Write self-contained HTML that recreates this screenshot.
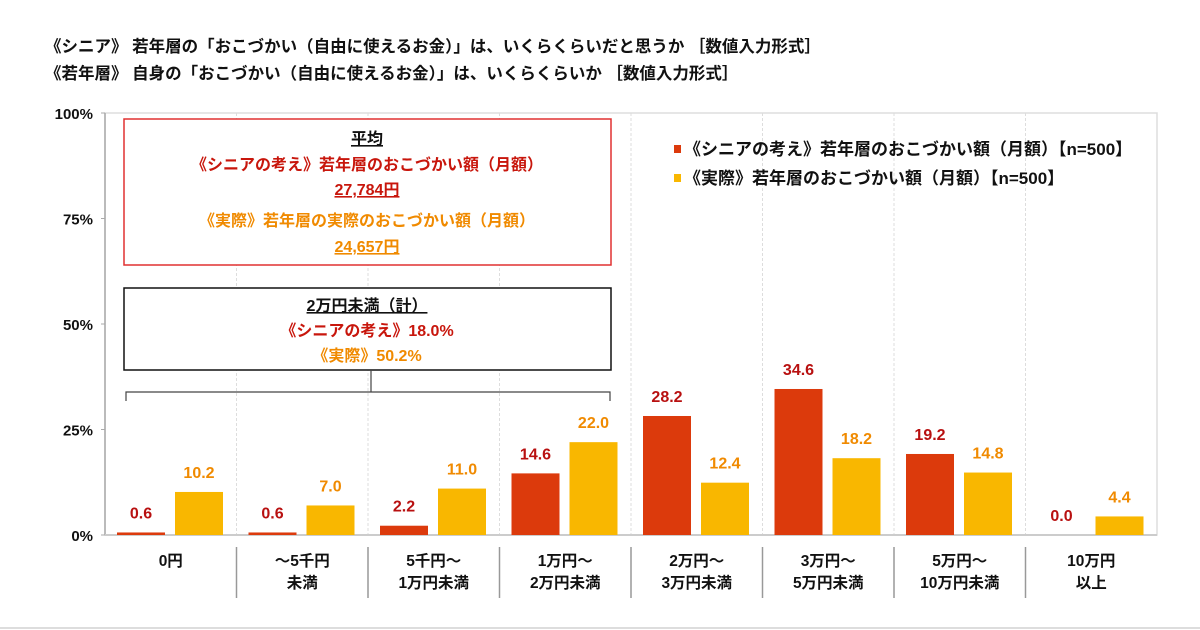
<!DOCTYPE html>
<html><head><meta charset="utf-8"><style>
body{margin:0;background:#fff;}
svg{display:block;font-family:"Liberation Sans","Noto Sans CJK JP",sans-serif;font-weight:bold;}
</style></head><body>
<svg id="c" width="1200" height="630" viewBox="0 0 1200 630">
<text x="45" y="52" font-size="16.5" fill="#111">《シニア》 若年層の「おこづかい（自由に使えるお金）」は、いくらくらいだと思うか ［数値入力形式］</text>
<text x="45" y="79" font-size="16.5" fill="#111">《若年層》 自身の「おこづかい（自由に使えるお金）」は、いくらくらいか ［数値入力形式］</text>
<g id="grid"></g>
<g id="bars"></g>
<g>
<rect x="674" y="145" width="7" height="8" fill="#dc3a0c"/>
<text x="684" y="155" font-size="17" fill="#111">《シニアの考え》若年層のおこづかい額（月額）【n=500】</text>
<rect x="674" y="174" width="7" height="8" fill="#f9b700"/>
<text x="684" y="184" font-size="17" fill="#111">《実際》若年層のおこづかい額（月額）【n=500】</text>
</g>
<g>
<rect x="124" y="119" width="487" height="146" fill="#fff" stroke="#e03030" stroke-width="1.5"/>
<text x="367" y="144" font-size="16" text-anchor="middle" fill="#111" text-decoration="underline">平均</text>
<text x="367" y="170" font-size="16" text-anchor="middle" fill="#c8160c">《シニアの考え》若年層のおこづかい額（月額）</text>
<text x="367" y="195" font-size="16" text-anchor="middle" fill="#c8160c" text-decoration="underline">27,784円</text>
<text x="367" y="226" font-size="16" text-anchor="middle" fill="#f08a00">《実際》若年層の実際のおこづかい額（月額）</text>
<text x="367" y="252" font-size="16" text-anchor="middle" fill="#f08a00" text-decoration="underline">24,657円</text>
</g>
<g>
<rect x="124" y="288" width="487" height="82" fill="#fff" stroke="#111" stroke-width="1.5"/>
<text x="367" y="311" font-size="16" text-anchor="middle" fill="#111" text-decoration="underline">2万円未満（計）</text>
<text x="367" y="336" font-size="16" text-anchor="middle" fill="#c8160c">《シニアの考え》18.0%</text>
<text x="367" y="361" font-size="16" text-anchor="middle" fill="#f08a00">《実際》50.2%</text>
<path d="M371 370V392M126 401V392H610V401" fill="none" stroke="#444" stroke-width="1.2"/>
</g>
<line x1="0" y1="628" x2="1200" y2="628" stroke="#bbb"/>
</svg>
<script>
const categories=[["0円"],["～5千円","未満"],["5千円～","1万円未満"],["1万円～","2万円未満"],["2万円～","3万円未満"],["3万円～","5万円未満"],["5万円～","10万円未満"],["10万円","以上"]];
const seniorValues=[0.6,0.6,2.2,14.6,28.2,34.6,19.2,0.0];
const actualValues=[10.2,7.0,11.0,22.0,12.4,18.2,14.8,4.4];
const yTicks=[0,25,50,75,100];
const NS="http://www.w3.org/2000/svg";
const X0=105,CW=131.5,Y0=535,YH=422;
const y=v=>Y0-v/100*YH;
const cx=i=>X0+i*CW;
function mk(t,a,p){const e=document.createElementNS(NS,t);for(const k in a)e.setAttribute(k,a[k]);(p||document.getElementById('c')).appendChild(e);return e;}
const g=document.getElementById('grid'),b=document.getElementById('bars');
const right=cx(categories.length);
mk('rect',{x:X0,y:y(100),width:right-X0,height:YH,fill:'none',stroke:'#ddd','stroke-width':1.5},g);
for(let i=1;i<categories.length;i++){
 const l=mk('line',{x1:cx(i),x2:cx(i),y1:y(100),y2:Y0,stroke:'#ddd','stroke-dasharray':'3,2'},g);
 
 
 const s=mk('line',{x1:cx(i),x2:cx(i),y1:547,y2:598,stroke:'#999','stroke-width':1.5},g);
 
 
}
mk('line',{x1:X0,x2:X0,y1:y(100),y2:Y0,stroke:'#aaa','stroke-width':1.5},g);
mk('line',{x1:X0,x2:right,y1:Y0,y2:Y0,stroke:'#ccc','stroke-width':2},g);
yTicks.forEach(t=>{
 const tx=mk('text',{x:93,y:y(t)+6,'font-size':15,'text-anchor':'end',fill:'#111'},g);
 tx.textContent=t+'%';
 
 
 mk('line',{x1:X0-4,x2:X0,y1:y(t),y2:y(t),stroke:'#aaa'},g);
});
categories.forEach((c,i)=>{
 const m=cx(i)+CW/2;
 c.forEach((ln,j)=>{
  const t=mk('text',{x:m,y:566+j*22,'font-size':15.5,'text-anchor':'middle',fill:'#111'},g);
  t.textContent=ln;
  
  
 });
 const sv=seniorValues[i],av=actualValues[i];
 const r=mk('rect',{x:cx(i)+12,y:y(sv),width:48,height:Math.max(0,Y0-y(sv)),fill:'#dc3a0c'},b);
 
 
 const o=mk('rect',{x:cx(i)+70,y:y(av),width:48,height:Y0-y(av),fill:'#f9b700'},b);
 
 
 const l1=mk('text',{x:cx(i)+36,y:y(sv)-14,'font-size':16,'text-anchor':'middle',fill:'#b81010'},b);
 l1.textContent=sv.toFixed(1);
 
 
 const l2=mk('text',{x:cx(i)+94,y:y(av)-14,'font-size':16,'text-anchor':'middle',fill:'#f08a00'},b);
 l2.textContent=av.toFixed(1);
 
 
});
</script>
</body></html>
